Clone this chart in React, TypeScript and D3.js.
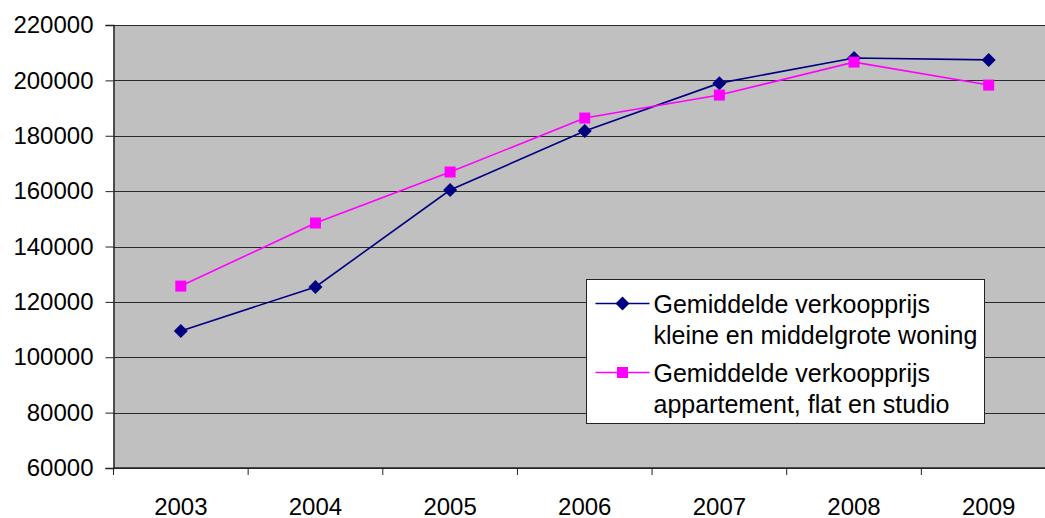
import React, { useEffect, useRef } from 'react';
import * as d3 from 'd3';

const years = ['2003', '2004', '2005', '2006', '2007', '2008', '2009'];
// gemiddelde verkoopprijs kleine en middelgrote woning
const woning = [109500, 125400, 160400, 181700, 199000, 208100, 207400];
// gemiddelde verkoopprijs appartement, flat en studio
const appartement = [125700, 148500, 166900, 186400, 194700, 206600, 198300];
const yTicks = [60000, 80000, 100000, 120000, 140000, 160000, 180000, 200000, 220000];

const legendItems = [
  { lines: ['Gemiddelde verkoopprijs', 'kleine en middelgrote woning'], color: '#000080', marker: 'diamond' },
  { lines: ['Gemiddelde verkoopprijs', 'appartement, flat en studio'], color: '#FF00FF', marker: 'square' },
];

const FONT = '"Liberation Sans", Arial, sans-serif';

const App: React.FC = () => {
  const svgRef = useRef<SVGSVGElement | null>(null);

  useEffect(() => {
    const width = 1045;
    const height = 518;
    const margin = { top: 25, left: 113.5, bottom: 50 };
    const plotRight = 1056;

    const svg = d3.select(svgRef.current);
    svg.selectAll('*').remove();
    svg
      .attr('width', width)
      .attr('height', height)
      .style('font-family', FONT)
      .style('display', 'block')
      .style('position', 'absolute')
      .style('left', '0px')
      .style('top', '0px')
      .style('background', '#fff');

    const x = d3.scaleBand<string>().domain(years).range([margin.left, plotRight]);
    const y = d3.scaleLinear().domain([60000, 220000]).range([height - margin.bottom, margin.top]);
    const cx = (d: string) => (x(d) as number) + x.bandwidth() / 2;

    // plot background
    svg
      .append('rect')
      .attr('x', margin.left)
      .attr('y', y(220000))
      .attr('width', plotRight - margin.left)
      .attr('height', y(60000) - y(220000))
      .attr('fill', '#C0C0C0');

    // gridlines
    svg
      .append('g')
      .selectAll('line')
      .data(yTicks)
      .join('line')
      .attr('x1', margin.left)
      .attr('x2', plotRight)
      .attr('y1', (d) => Math.round(y(d)) + 0.5)
      .attr('y2', (d) => Math.round(y(d)) + 0.5)
      .attr('stroke', '#2a2a2a')
      .attr('stroke-width', 1);

    // y axis
    const yAxis = svg
      .append('g')
      .attr('transform', `translate(${margin.left},0)`)
      .call(d3.axisLeft(y).tickValues(yTicks).tickSize(8).tickPadding(12).tickFormat(d3.format('d')));
    yAxis.select('.domain').attr('stroke', '#222').attr('stroke-width', 1.5);
    yAxis.selectAll('.tick line').attr('stroke', '#222');
    yAxis.selectAll('text').attr('font-size', 24).attr('fill', '#000').attr('font-family', FONT);

    // x axis
    const xAxis = svg
      .append('g')
      .attr('transform', `translate(0,${y(60000)})`);
    xAxis
      .append('line')
      .attr('x1', margin.left)
      .attr('x2', plotRight)
      .attr('y1', 0)
      .attr('y2', 0)
      .attr('stroke', '#222')
      .attr('stroke-width', 1.5);
    const bounds = [...years.map((d) => x(d) as number), plotRight];
    xAxis
      .selectAll('line.tk')
      .data(bounds)
      .join('line')
      .attr('class', 'tk')
      .attr('x1', (d) => d)
      .attr('x2', (d) => d)
      .attr('y1', 0)
      .attr('y2', 7)
      .attr('stroke', '#222');
    xAxis
      .selectAll('text')
      .data(years)
      .join('text')
      .attr('x', cx)
      .attr('y', 47)
      .attr('text-anchor', 'middle')
      .attr('font-size', 24)
      .attr('fill', '#000')
      .text((d) => d);

    const line = d3
      .line<number>()
      .x((_, i) => cx(years[i]))
      .y((d) => y(d));

    const diamond = (s: number) => `M0,${-s}L${s},0L0,${s}L${-s},0Z`;

    // series 1
    svg
      .append('path')
      .datum(woning)
      .attr('d', line)
      .attr('fill', 'none')
      .attr('stroke', '#000080')
      .attr('stroke-width', 1.6);

    // series 2
    svg
      .append('path')
      .datum(appartement)
      .attr('d', line)
      .attr('fill', 'none')
      .attr('stroke', '#FF00FF')
      .attr('stroke-width', 1.6);

    svg
      .append('g')
      .selectAll('path')
      .data(woning)
      .join('path')
      .attr('transform', (d, i) => `translate(${cx(years[i])},${y(d)})`)
      .attr('d', diamond(7))
      .attr('fill', '#000080');

    svg
      .append('g')
      .selectAll('rect')
      .data(appartement)
      .join('rect')
      .attr('x', (d, i) => cx(years[i]) - 5.5)
      .attr('y', (d) => y(d) - 5.5)
      .attr('width', 11)
      .attr('height', 11)
      .attr('fill', '#FF00FF');

    // legend
    const legend = svg.append('g').attr('transform', 'translate(586.5,279.5)');
    legend
      .append('rect')
      .attr('width', 398)
      .attr('height', 144)
      .attr('fill', '#fff')
      .attr('stroke', '#222')
      .attr('stroke-width', 1);

    legendItems.forEach((item, i) => {
      const gy = 24 + i * 69;
      const g = legend.append('g').attr('transform', `translate(0,${gy})`);
      g.append('line')
        .attr('x1', 9)
        .attr('x2', 63)
        .attr('y1', 0)
        .attr('y2', 0)
        .attr('stroke', item.color)
        .attr('stroke-width', 1.6);
      if (item.marker === 'diamond') {
        g.append('path').attr('transform', 'translate(36,0)').attr('d', diamond(7)).attr('fill', item.color);
      } else {
        g.append('rect').attr('x', 30.5).attr('y', -5.5).attr('width', 11).attr('height', 11).attr('fill', item.color);
      }
      item.lines.forEach((t, j) => {
        g.append('text')
          .attr('x', 67)
          .attr('y', j * 31)
          .attr('dy', '0.36em')
          .attr('font-size', 25)
          .attr('fill', '#000')
          .text(t);
      });
    });
  }, []);

  return <svg ref={svgRef} />;
};

export default App;
